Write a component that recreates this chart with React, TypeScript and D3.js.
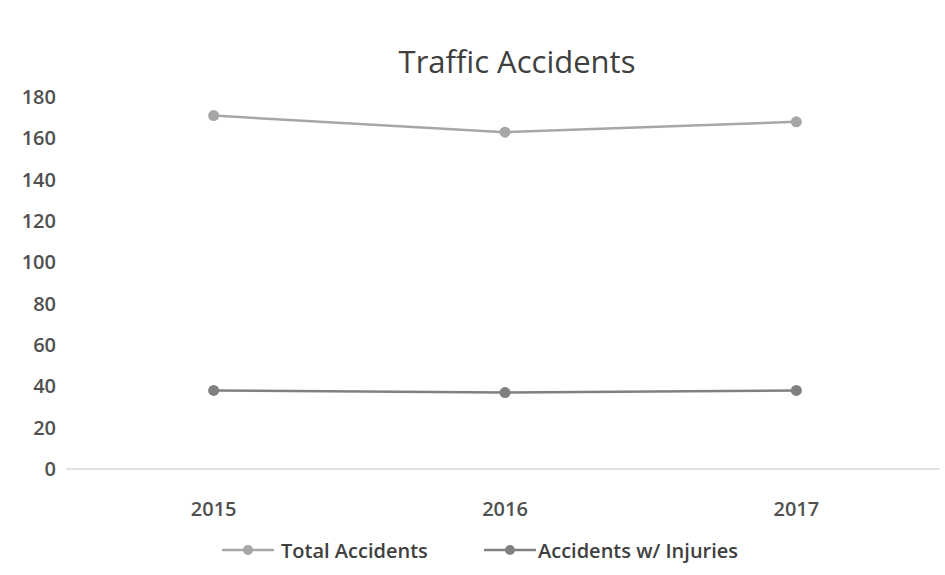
import React from "react";
import * as d3 from "d3";

const years = ["2015", "2016", "2017"];
const totalAccidents = [171, 163, 168];
const injuryAccidents = [38, 37, 38];
const yTicks = [0, 20, 40, 60, 80, 100, 120, 140, 160, 180];

const W = 945;
const H = 575;
const FONT = "'Open Sans', Lato, sans-serif";

export default function App() {
  const x = d3.scaleBand<string>().domain(years).range([68, 942]);
  const y = d3.scaleLinear().domain([0, 180]).range([469, 97]);
  const cx = (d: string) => (x(d) as number) + x.bandwidth() / 2;

  const series = [
    { name: "Total Accidents", values: totalAccidents, color: "#a6a6a6" },
    { name: "Accidents w/ Injuries", values: injuryAccidents, color: "#808080" },
  ];
  const line = d3
    .line<number>()
    .x((_, i) => cx(years[i]))
    .y((v) => y(v));

  const legend = [
    { x: 222, tx: 281 },
    { x: 484, tx: 538 },
  ];

  return (
    <svg width={W} height={H} style={{ position: "absolute", left: 0, top: 0, background: "#fff" }}>
      <rect width={W} height={H} fill="#fff" />
      <text x={517} y={73} textAnchor="middle" fontFamily={FONT} fontSize={31} fill="#404040">
        Traffic Accidents
      </text>
      <line x1={66} x2={940} y1={y(0)} y2={y(0)} stroke="#d9d9d9" strokeWidth={1.5} />
      {yTicks.map((t) => (
        <text key={t} x={56} y={y(t) + 7} textAnchor="end" fontFamily={FONT} fontSize={20} fontWeight={600} fill="#505050">
          {t}
        </text>
      ))}
      {years.map((yr) => (
        <text key={yr} x={cx(yr)} y={516} textAnchor="middle" fontFamily={FONT} fontSize={20} fontWeight={600} fill="#505050">
          {yr}
        </text>
      ))}
      {series.map((s) => (
        <g key={s.name}>
          <path d={line(s.values) || ""} fill="none" stroke={s.color} strokeWidth={2.5} />
          {s.values.map((v, i) => (
            <circle key={i} cx={cx(years[i])} cy={y(v)} r={5.5} fill={s.color} />
          ))}
        </g>
      ))}
      {series.map((s, i) => (
        <g key={s.name}>
          <line x1={legend[i].x} x2={legend[i].x + 52} y1={550} y2={550} stroke={s.color} strokeWidth={2.5} />
          <circle cx={legend[i].x + 26} cy={550} r={5} fill={s.color} />
          <text x={legend[i].tx} y={558} fontFamily={FONT} fontSize={20} fontWeight={600} fill="#404040">
            {s.name}
          </text>
        </g>
      ))}
    </svg>
  );
}
